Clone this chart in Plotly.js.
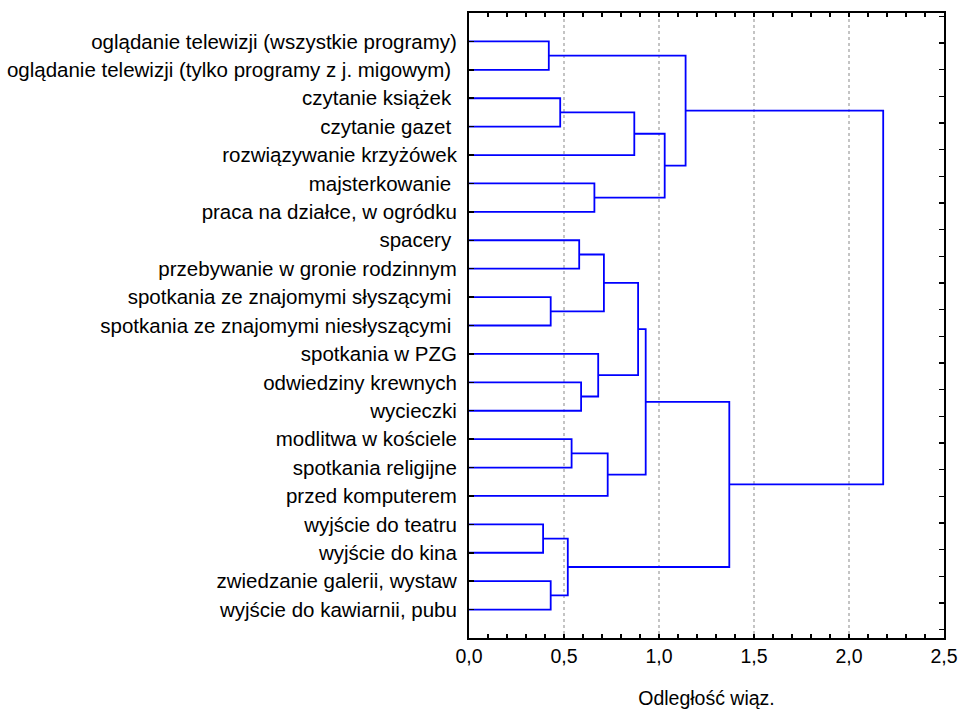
<!DOCTYPE html>
<html>
<head>
<meta charset="utf-8">
<script src="https://cdn.plot.ly/plotly-3.0.1.min.js"></script>
<style>html,body{margin:0;padding:0;background:#fff;}#chart{width:960px;height:712px;}</style>
</head>
<body>
<div id="chart"></div>
<script>
// Leaf labels (top to bottom)
const leafLabels = [
  "oglądanie telewizji (wszystkie programy)",
  "oglądanie telewizji (tylko programy z j. migowym) ",
  "czytanie książek ",
  "czytanie gazet ",
  "rozwiązywanie krzyżówek",
  "majsterkowanie ",
  "praca na działce, w ogródku",
  "spacery ",
  "przebywanie w gronie rodzinnym",
  "spotkania ze znajomymi słyszącymi ",
  "spotkania ze znajomymi niesłyszącymi ",
  "spotkania w PZG",
  "odwiedziny krewnych",
  "wycieczki",
  "modlitwa w kościele",
  "spotkania religijne",
  "przed komputerem",
  "wyjście do teatru",
  "wyjście do kina",
  "zwiedzanie galerii, wystaw",
  "wyjście do kawiarnii, pubu"
];
// Linkage: node ids 0..20 are leaves, merge k creates node 21+k
const mergeLeft   = [0, 2, 22, 5, 23, 21, 7, 9, 27, 12, 11, 29, 14, 33, 32, 17, 19, 36, 35, 26];
const mergeRight  = [1, 3, 4, 6, 24, 25, 8, 10, 28, 13, 30, 31, 15, 16, 34, 18, 20, 37, 38, 39];
const mergeHeight = [0.42, 0.48, 0.87, 0.66, 1.03, 1.14, 0.58, 0.43, 0.71, 0.59, 0.68, 0.89, 0.54, 0.73, 0.93, 0.39, 0.43, 0.52, 1.37, 2.18];
const xTicks = [0, 0.5, 1.0, 1.5, 2.0, 2.5];

const nLeaf = leafLabels.length;
const nodeX = [], nodeY = [];
for (let i = 0; i < nLeaf; i++) { nodeX.push(0); nodeY.push(i + 1); }
const lx = [], ly = [];
for (let k = 0; k < mergeHeight.length; k++) {
  const a = mergeLeft[k], b = mergeRight[k], h = mergeHeight[k];
  lx.push(nodeX[a], h, h, nodeX[b], null);
  ly.push(nodeY[a], nodeY[a], nodeY[b], nodeY[b], null);
  nodeX.push(h);
  nodeY.push((nodeY[a] + nodeY[b]) / 2);
}
const nb = s => s.replace(/ +$/, m => "\u00a0".repeat(m.length));

const fontFam = "Liberation Sans, Arial, sans-serif";
const traces = [
  {type: "scatter", mode: "lines", x: lx, y: ly, line: {color: "#0000ff", width: 1.8},
   hoverinfo: "skip", showlegend: false, cliponaxis: false},
  {type: "scatter", mode: "markers", x: [null], y: [null], xaxis: "x", yaxis: "y2",
   hoverinfo: "skip", showlegend: false}
];
const layout = {
  width: 960, height: 712,
  margin: {l: 468.5, r: 16, t: 13.3, b: 73.7},
  paper_bgcolor: "#fff", plot_bgcolor: "#fff",
  separators: ",.",
  font: {family: fontFam, size: 19, color: "#000"},
  showlegend: false,
  xaxis: {
    range: [0, 2.5], tickvals: xTicks, tickformat: ".1f",
    ticks: "inside", ticklen: 4, tickwidth: 1.5, tickcolor: "#000",
    showline: true, linecolor: "#000", linewidth: 2, mirror: "ticks",
    showgrid: true, gridcolor: "#c4c4c4", griddash: "dot", gridwidth: 1.3,
    minor: {dtick: 0.1, ticks: "inside", ticklen: 4, tickwidth: 1.5, tickcolor: "#000", showgrid: false},
    zeroline: false, fixedrange: true,
    tickfont: {size: 19.5},
    title: {text: "Odległość wiąz.", font: {size: 19.5}, standoff: 25}
  },
  yaxis: {
    range: [22, 0], tickvals: leafLabels.map((_, i) => i + 1), ticktext: leafLabels.map(nb),
    ticks: "inside", ticklen: 5, tickwidth: 1.5, tickcolor: "#000",
    showline: true, linecolor: "#000", linewidth: 2,
    showgrid: false, zeroline: false, fixedrange: true,
    tickfont: {size: 20.5}, ticklabelstandoff: 6
  },
  yaxis2: {
    overlaying: "y", side: "right", anchor: "x",
    range: [23.44, 0], tick0: 0.127, dtick: 1,
    ticks: "inside", ticklen: 5, tickwidth: 1.5, tickcolor: "#000",
    showticklabels: false, showline: true, linecolor: "#000", linewidth: 2,
    showgrid: false, zeroline: false, fixedrange: true
  }
};
Plotly.newPlot("chart", traces, layout, {staticPlot: true, displayModeBar: false});
</script>
</body>
</html>
